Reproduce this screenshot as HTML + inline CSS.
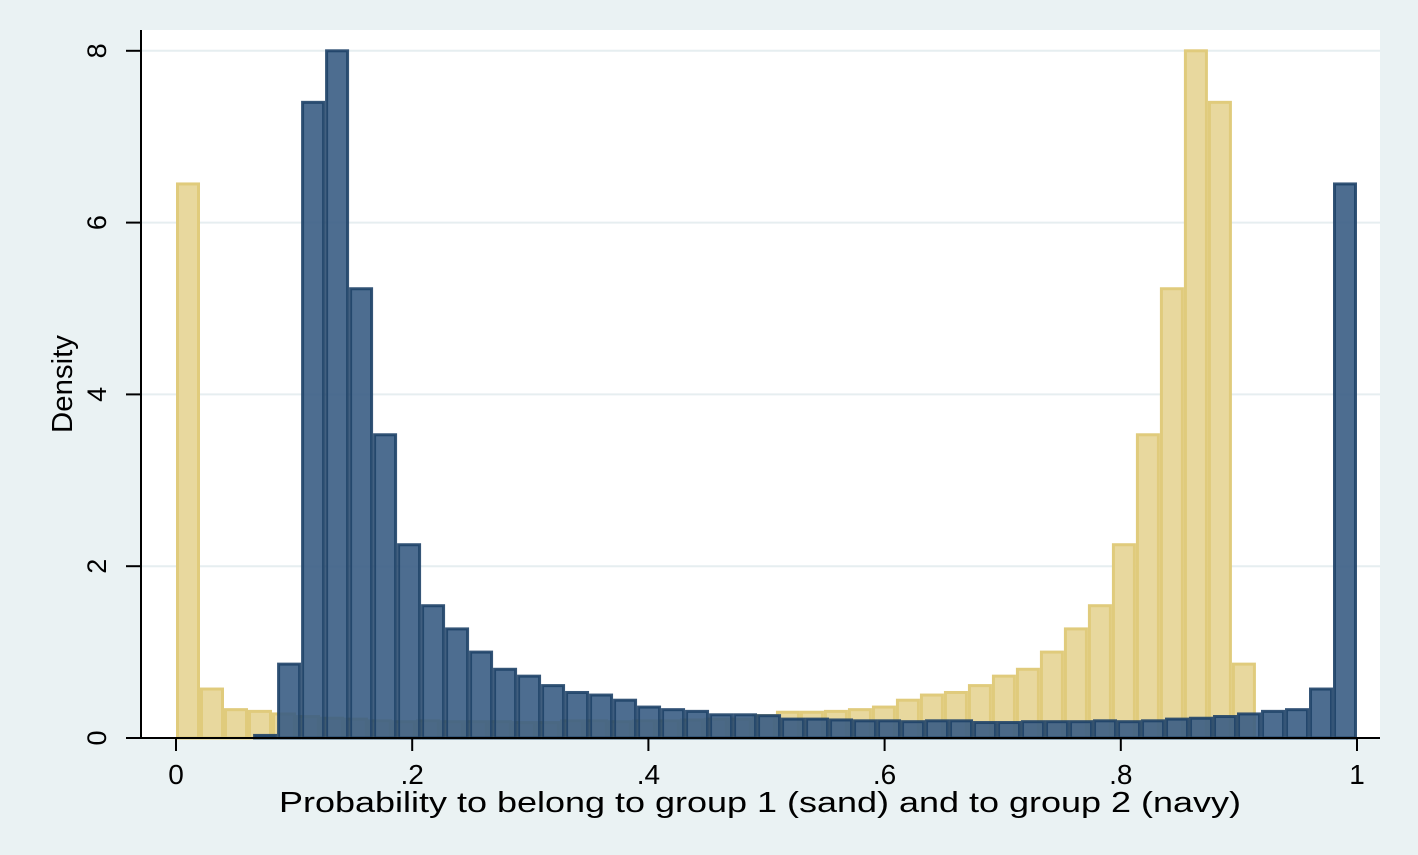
<!DOCTYPE html>
<html><head><meta charset="utf-8"><style>
body{margin:0;background:#eaf2f3;}
svg{display:block;font-family:"Liberation Sans",sans-serif;}
</style></head><body>
<svg id="chart" width="1418" height="855" viewBox="0 0 1418 855">
<rect x="0" y="0" width="1418" height="855" fill="#eaf2f3"/>
<rect x="141" y="30" width="1239" height="708" fill="#ffffff"/>
<g id="grid"></g><g id="sand"></g><g id="navy"></g><g id="axes"></g>
<text x="760" y="812" font-size="29" text-anchor="middle" textLength="962" lengthAdjust="spacingAndGlyphs" fill="#000">Probability to belong to group 1 (sand) and to group 2 (navy)</text>
<text transform="translate(72,384) rotate(-90)" font-size="29" text-anchor="middle" textLength="98" lengthAdjust="spacingAndGlyphs" fill="#000">Density</text>
</svg>
<script>
const binWidth = 0.02032;
const sandValues = [6.45,0.57,0.33,0.31,0.28,0.25,0.23,0.22,0.2,0.19,0.2,0.19,0.19,0.19,0.18,0.18,0.2,0.2,0.19,0.2,0.2,0.21,0.22,0.22,0.26,0.3,0.3,0.31,0.33,0.36,0.44,0.5,0.53,0.61,0.72,0.8,1.0,1.27,1.54,2.25,3.53,5.23,8.0,7.4,0.86];
const navyValues = [0.03,0.86,7.4,8.0,5.23,3.53,2.25,1.54,1.27,1.0,0.8,0.72,0.61,0.53,0.5,0.44,0.36,0.33,0.31,0.27,0.27,0.26,0.22,0.22,0.21,0.2,0.2,0.19,0.2,0.2,0.18,0.18,0.19,0.19,0.19,0.2,0.19,0.2,0.22,0.23,0.25,0.28,0.31,0.33,0.57,6.45];
const xTicks = [0,0.2,0.4,0.6,0.8,1];
const xTickLabels = ["0",".2",".4",".6",".8","1"];
const yTicks = [0,2,4,6,8];
const yTickLabels = ["0","2","4","6","8"];
const NS="http://www.w3.org/2000/svg";
const X=v=>176+v*1181;
const Y=v=>738-v*85.9;
function mk(tag,attrs,parent){const e=document.createElementNS(NS,tag);for(const k in attrs)e.setAttribute(k,attrs[k]);parent.appendChild(e);return e;}
const grid=document.getElementById('grid'),axes=document.getElementById('axes');
yTicks.forEach((t,i)=>{
 if(t>0){const g=mk('line',{x1:141,x2:1380,y1:Y(t),y2:Y(t),stroke:'#e6eef0','stroke-width':2},grid);
 
 }
 const tk=mk('line',{x1:126,x2:141,y1:Y(t),y2:Y(t),stroke:'#000','stroke-width':2},axes);
 
 
 const tx=mk('text',{transform:`translate(106,${Y(t)}) rotate(-90)`,'font-size':27,'text-anchor':'middle',fill:'#000'},axes);
 tx.textContent=yTickLabels[i];
 
 
});
function drawBars(vals,parentId,fill,stroke,op,name,fromRight){
 const p=document.getElementById(parentId);
 const n=vals.length;
 vals.forEach((v,i)=>{ if(v<=0)return;
  const lo=fromRight?1-(n-i)*binWidth:i*binWidth;
  const x0=X(lo),x1=X(lo+binWidth);
  const r=mk('rect',{x:x0+1.5,y:Y(v),width:x1-x0-3,height:Y(0)-Y(v),fill:fill,stroke:stroke,'stroke-width':3,'fill-opacity':op,'stroke-opacity':op},p);
  
  
 });
}
drawBars(sandValues,'sand','#e8d89e','#e0cb7c',1,'sand-bar',false);
drawBars(navyValues,'navy','#3a5d84','#1f4268',0.9,'navy-bar',true);
const ya=mk('line',{x1:141,x2:141,y1:30,y2:739,stroke:'#000','stroke-width':2},axes);


const xa=mk('line',{x1:140,x2:1380,y1:738,y2:738,stroke:'#000','stroke-width':2},axes);


xTicks.forEach((t,i)=>{
 const tk=mk('line',{x1:X(t),x2:X(t),y1:738,y2:751,stroke:'#000','stroke-width':2},axes);
 
 
 const tx=mk('text',{x:X(t),y:784,'font-size':28,'text-anchor':'middle',fill:'#000'},axes);
 tx.textContent=xTickLabels[i];
 
 
});
</script>
</body></html>
